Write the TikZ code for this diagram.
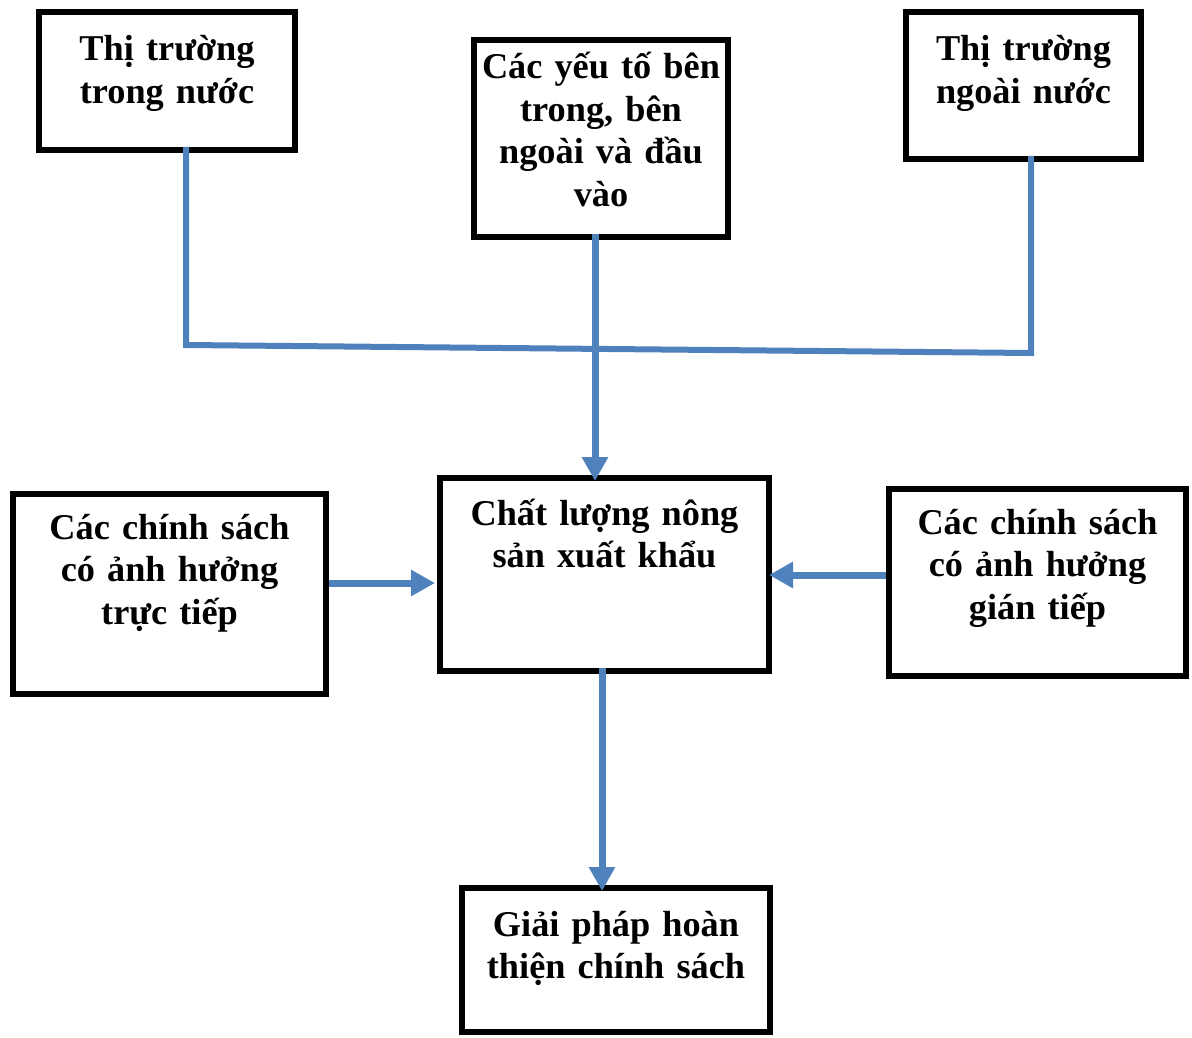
\documentclass[tikz,border=0pt]{standalone}
\usepackage{fontspec}
\setmainfont{Liberation Serif}
\usetikzlibrary{arrows.meta}
\definecolor{conncol}{HTML}{4F81BD}
\begin{document}
\begin{tikzpicture}[x=1pt,y=-1pt,
  box/.style={draw=black, line width=6.5pt, rectangle, inner sep=0pt, outer sep=0pt},
  txt/.style={anchor=base, align=center, inner sep=0pt, text width=#1,
    font=\fontsize{36.3}{42.5}\selectfont\bfseries},
  conn/.style={draw=conncol, line width=6pt},
  arr/.style={draw=conncol, line width=7pt, -{Triangle[width=25pt,length=24pt]}}]
\useasboundingbox (0,0) rectangle (1192,1038);
% boxes
\node[box, minimum width=256pt, minimum height=138pt] (b1) at (167,81) {};
\node[box, minimum width=254pt, minimum height=197pt] (b2) at (601,138.5) {};
\node[box, minimum width=235pt, minimum height=147pt] (b3) at (1023.5,85.5) {};
\node[box, minimum width=329pt, minimum height=193pt] (c) at (604.5,574.5) {};
\node[box, minimum width=313pt, minimum height=200pt] (l) at (169.5,594) {};
\node[box, minimum width=297pt, minimum height=187pt] (r) at (1037.5,582.5) {};
\node[box, minimum width=308pt, minimum height=144pt] (g) at (616,960) {};
% texts
\node[txt=250pt] (t1) at (167,61) {Thị trường\\trong nước};
\node[txt=250pt] (t2) at (601,79) {Các yếu tố bên\\trong, bên\\ngoài và đầu\\vào};
\node[txt=230pt] (t3) at (1023.5,61) {Thị trường\\ngoài nước};
\node[txt=320pt] (tc) at (604.5,525) {Chất lượng nông\\sản xuất khẩu};
\node[txt=300pt] (tl) at (169.5,539) {Các chính sách\\có ảnh hưởng\\trực tiếp};
\node[txt=290pt] (tr) at (1037.5,534) {Các chính sách\\có ảnh hưởng\\gián tiếp};
\node[txt=300pt] (tg) at (616,936) {Giải pháp hoàn\\thiện chính sách};
% junction coordinates
\coordinate (jl) at (186,345);
\coordinate (jr) at (1031,353);
\coordinate (mx) at (595,0);
\coordinate (bx) at (602,0);
\coordinate (ly) at (0,583);
\coordinate (ry) at (0,575);
% connectors
\draw[conn] ([yshift=3pt]b1.south -| jl) -- (jl) -- (jr) -- ([yshift=3pt]b3.south -| jr);
\draw[arr] ([yshift=3pt]b2.south -| mx) -- ([yshift=-3pt]c.north -| mx);
\draw[arr] ([xshift=3pt]l.east |- ly) -- ([xshift=-5pt]c.west |- ly);
\draw[arr] ([xshift=-3pt]r.west |- ry) -- (c.east |- ry);
\draw[arr] ([yshift=3pt]c.south -| bx) -- ([yshift=-3pt]g.north -| bx);
\end{tikzpicture}
\end{document}
